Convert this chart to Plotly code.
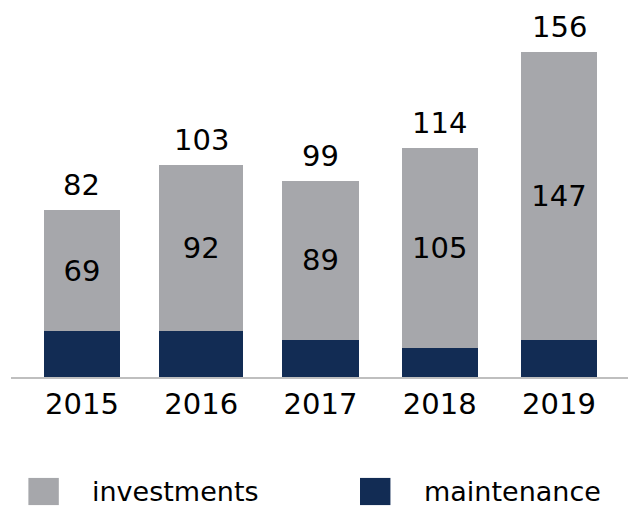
import plotly.graph_objects as go

# Data
years = ['2015', '2016', '2017', '2018', '2019']
maintenance = [22, 22, 18, 14, 18]
investments = [58, 80, 76, 96, 138]
investment_labels = ['69', '92', '89', '105', '147']
total_labels = ['82', '103', '99', '114', '156']
bar_widths = [0.64, 0.70, 0.64, 0.64, 0.64]

gray = '#a6a7ab'
navy = '#122c54'
font_family = 'DejaVu Sans'

totals = [m + i for m, i in zip(maintenance, investments)]

fig = go.Figure()

fig.add_trace(go.Bar(x=years, y=maintenance, name='maintenance',
                     marker=dict(color=navy, line=dict(width=0)),
                     width=bar_widths, showlegend=False))
fig.add_trace(go.Bar(x=years, y=investments, name='investments',
                     marker=dict(color=gray, line=dict(width=0)),
                     width=bar_widths, text=investment_labels,
                     textposition='inside', insidetextanchor='middle',
                     textangle=0,
                     textfont=dict(family=font_family, size=29, color='black'),
                     showlegend=False))

# Totals above the bars
for idx, (tot, lab) in enumerate(zip(totals, total_labels)):
    fig.add_annotation(xref='x', yref='y', x=idx, y=tot, text=lab,
                       showarrow=False, yanchor='bottom', yshift=6,
                       font=dict(family=font_family, size=29, color='black'))

# Legend drawn by hand so the swatches are as big as in the original
legend_items = [('investments', gray, 0.028), ('maintenance', navy, 0.562)]
for label, color, x0 in legend_items:
    fig.add_shape(type='rect', xref='paper', yref='paper',
                  x0=x0, x1=x0 + 0.049, y0=-0.349, y1=-0.275,
                  fillcolor=color, line=dict(width=0))
    fig.add_annotation(xref='paper', yref='paper', x=x0 + 0.1, y=-0.312,
                       text=label, showarrow=False, xanchor='left',
                       yanchor='middle',
                       font=dict(family=font_family, size=27, color='black'))

# page body has an 8px margin, so the figure is 8px smaller than the window
fig.update_layout(
    barmode='stack',
    width=628, height=498,
    margin=dict(l=3, r=4, t=2, b=129),
    plot_bgcolor='white', paper_bgcolor='white',
    font=dict(family=font_family, color='black'),
)
fig.update_xaxes(type='category', range=[-0.595, 4.612],
                 showline=True, linecolor='#bfbfbf', linewidth=2,
                 ticks='', showgrid=False,
                 tickfont=dict(family=font_family, size=29, color='black'))
fig.update_yaxes(range=[0, 176.2], visible=False, showgrid=False,
                 zeroline=False)

fig.write_html('out.html')
